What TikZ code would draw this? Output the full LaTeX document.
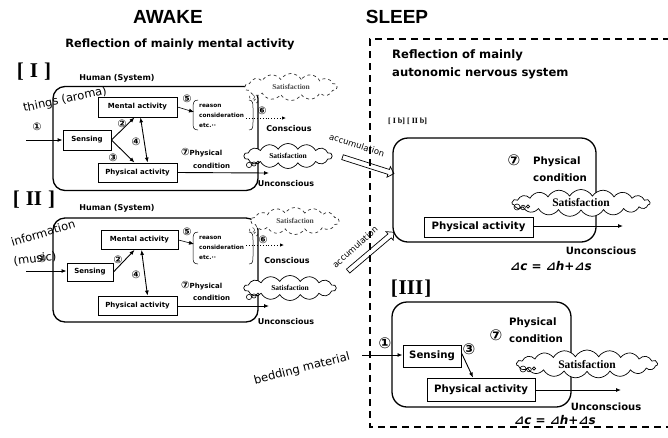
\documentclass[tikz,border=0pt]{standalone}
\usepackage{fontspec}
\setmainfont{DejaVu Sans}
\newfontfamily\serifb{Liberation Serif}
\newfontfamily\djsans{DejaVu Sans}
\newfontfamily\arialf{Liberation Sans}
\usetikzlibrary{shapes.symbols,shapes.arrows,arrows.meta,calc}
\tikzset{
 abox/.style={draw, line width=0.9pt, fill=white, inner sep=0pt, font=\fontsize{7}{9}\selectfont\bfseries},
 sbox/.style={draw, line width=1pt, fill=white, inner sep=0pt, font=\fontsize{10.2}{12}\selectfont\bfseries},
 bigbox/.style={draw, line width=1.3pt, rounded corners=12pt, inner sep=0pt},
 arr/.style={line width=0.9pt, -{Latex[length=5pt,width=4pt]}},
 darr/.style={line width=0.9pt, {Latex[length=5pt,width=4pt]}-{Latex[length=5pt,width=4pt]}},
 lbl/.style={font=\fontsize{7}{9}\selectfont\bfseries, inner sep=0pt},
 mlbl/.style={font=\fontsize{8}{9}\selectfont\bfseries, inner sep=0pt},
 slbl/.style={font=\fontsize{10.2}{17}\selectfont\bfseries, inner sep=0pt},
 tiny/.style={font=\fontsize{5.8}{10}\selectfont\bfseries, inner sep=0pt, align=left},
 num/.style={font=\fontsize{10.5}{10}\selectfont\bfseries, inner sep=0pt},
 bignum/.style={font=\fontsize{15}{15}\selectfont\bfseries, inner sep=0pt},
 sat/.style={cloud, cloud ignores aspect, draw, line width=0.7pt, cloud puffs=14, cloud puff arc=120, inner sep=0pt, fill=white, font=\serifb\fontsize{7.5}{8}\selectfont\bfseries},
 bsat/.style={sat, cloud puffs=19, font=\serifb\fontsize{11.5}{12}\selectfont\bfseries},
 hollow/.style={single arrow, draw, line width=0.7pt, inner sep=2.2pt, single arrow head extend=3pt, single arrow head indent=0pt, fill=white},
 roman/.style={font=\serifb\fontsize{21}{21}\selectfont\bfseries, inner sep=0pt},
 hand/.style={font=\fontsize{11.5}{12}\selectfont, inner sep=0pt},
 eq/.style={font=\fontsize{12}{12}\selectfont\bfseries\itshape, inner sep=0pt},
 bubble/.style={draw, line width=0.6pt},
}
\begin{document}
\begin{tikzpicture}[x=1pt,y=-1pt]
\useasboundingbox (0,0) rectangle (668,437);

% ---------- titles ----------
\node[font=\arialf\fontsize{19}{19}\selectfont\bfseries, inner sep=0pt] (tawake) at (168,17) {AWAKE};
\node[font=\fontsize{11.4}{12}\selectfont\bfseries, inner sep=0pt] (tawake2) at (180,44) {Reflection of mainly mental activity};
\node[font=\arialf\fontsize{19}{19}\selectfont\bfseries, inner sep=0pt] (tsleep) at (397,17) {SLEEP};

% ================= [I] =================
\node[roman] (r1lab) at (34,72) {[\hspace{6pt}I\hspace{6pt}]};
\node[mlbl] (hs1) at (117,78) {Human (System)};
\node[bigbox, minimum width=205, minimum height=104] (h1) at (155.5,138.5) {};
\node[abox, minimum width=79, minimum height=20] (m1) at (137.5,107) {Mental activity};
\node[abox, minimum width=48, minimum height=20] (s1) at (87,140) {Sensing};
\node[abox, minimum width=79, minimum height=19] (p1) at (137.5,172.5) {Physical activity};
\coordinate (in1) at (26,140);
\draw[arr] (in1) -- (s1.west);
\node[num] (n11) at (37,127) {①};
\node[hand, rotate=12] (thing) at (65,100) {things (aroma)};
\draw[arr] (s1.east) -- ([xshift=-3pt]m1.south);
\draw[arr] (s1.east) -- ([xshift=-3pt]p1.north);
\node[num] (n12) at (122,124) {②};
\node[num] (n13) at (113,158) {③};
\node[num] (n14) at (136,142) {④};
\draw[darr] ([xshift=3pt]m1.south) -- ([xshift=10pt]p1.north);
\node[num] (n15) at (187,99) {⑤};
\node[tiny, anchor=west] (rs1) at (199,116) {reason\\consideration\\etc.··};
\draw[arr, line width=0.6pt] (m1.east) -- ([xshift=-5pt]rs1.west |- 0,112);
\draw[line width=0.5pt] (198,100) .. controls (193,100) and (193,104) .. (193,108) -- (193,122) .. controls (193,127) and (193,130) .. (198,130);
\draw[line width=0.5pt] (249,100) .. controls (253,100) and (253,104) .. (253,108) -- (253,122) .. controls (253,127) and (253,130) .. (249,130);
\node[num] (n16) at (262,111) {⑥};
\coordinate (d1a) at (246,118); \coordinate (d1b) at (286,118);
\draw[arr, line width=0.8pt, dotted, -{Latex[length=4pt,width=3.5pt]}] (d1a) -- (d1b);
\node[mlbl] (con1) at (289,129) {Conscious};
\node[sat, dashed, draw=black!80, text=black!70, minimum width=92, minimum height=27] (cd1) at (291,87) {Satisfaction};
\draw[bubble, dashed, line width=0.4pt] (252,97) circle (2.5) (256,101) circle (2);
\node[sat, minimum width=88, minimum height=25] (cs1) at (288,156) {Satisfaction};
\draw[bubble] (249,165) circle (2.6) (254,164) circle (2.1) (258,162.5) circle (1.5);
\node[lbl, anchor=west] (pc1) at (181,153) {{\fontsize{10}{10}\selectfont ⑦}Physical};
\node[lbl, anchor=west] (pc1b) at (193,166) {condition};
\coordinate (u1) at (269,173);
\draw[arr] (p1.east) -- (u1);
\node[mlbl] (un1) at (286,184) {Unconscious};

% accumulation I
\node[hollow, minimum height=54, rotate=-17.7] (acc1) at (367,165) {};
\node[font=\fontsize{8.5}{9}\selectfont, rotate=-18, inner sep=0pt] (acct1) at (357,145) {accumulation};

% ================= [II] =================
\node[roman] (r2lab) at (34,200) {[\hspace{6pt}II\hspace{6pt}]};
\node[mlbl] (hs2) at (117,208) {Human (System)};
\node[bigbox, minimum width=205, minimum height=104] (h2) at (155.5,270) {};
\node[abox, minimum width=77, minimum height=19] (m2) at (139.5,240) {Mental activity};
\node[abox, minimum width=46, minimum height=18] (s2) at (90,272) {Sensing};
\node[abox, minimum width=79, minimum height=19] (p2) at (137.5,305.5) {Physical activity};
\coordinate (in2) at (26,271);
\draw[arr] (in2) -- (s2.west |- in2);
\node[hand, rotate=17] (info) at (43,233) {information};
\node[hand, rotate=8] (music) at (35,259) {(music)};
\node[num] (n21) at (42,259) {①};
\draw[arr] (s2.east) -- ([xshift=-5pt]m2.south);
\node[num] (n22) at (118,260) {②};
\node[num] (n24) at (136,275) {④};
\draw[darr] ([xshift=2pt]m2.south) -- ([xshift=10pt]p2.north);
\node[num] (n25) at (187,232) {⑤};
\node[tiny, anchor=west] (rs2) at (199,248) {reason\\consideration\\etc.··};
\draw[arr, line width=0.6pt] (m2.east) -- ([xshift=-5pt]rs2.west |- 0,244);
\draw[line width=0.5pt] (198,232) .. controls (193,232) and (193,236) .. (193,240) -- (193,256) .. controls (193,261) and (193,264) .. (198,264);
\draw[line width=0.5pt] (249,232) .. controls (253,232) and (253,236) .. (253,240) -- (253,256) .. controls (253,261) and (253,264) .. (249,264);
\node[num] (n26) at (263,240) {⑥};
\coordinate (d2a) at (246,245); \coordinate (d2b) at (284,245);
\draw[arr, line width=0.8pt, dotted, -{Latex[length=4pt,width=3.5pt]}] (d2a) -- (d2b);
\node[mlbl] (con2) at (287,261) {Conscious};
\node[sat, dashed, draw=black!80, text=black!70, minimum width=88, minimum height=27] (cd2) at (295,221) {Satisfaction};
\draw[bubble, dashed, line width=0.4pt] (252,230) circle (2.5) (256,234) circle (2);
\node[sat, minimum width=92, minimum height=25] (cs2) at (290,288) {Satisfaction};
\draw[bubble] (249,297) circle (2.6) (254,296) circle (2.1) (258,294.5) circle (1.5);
\node[lbl, anchor=west] (pc2) at (181,286) {{\fontsize{10}{10}\selectfont ⑦}Physical};
\node[lbl, anchor=west] (pc2b) at (193,298) {condition};
\coordinate (u2) at (269,306);
\draw[arr] (p2.east |- u2) -- (u2);
\node[mlbl] (un2) at (286,322) {Unconscious};

% accumulation II
\node[hollow, minimum height=60, rotate=40.3] (acc2) at (370,252.5) {};
\node[font=\fontsize{8.5}{9}\selectfont, rotate=42, inner sep=0pt] (acct2) at (355,247) {accumulation};

% ================= SLEEP =================
\draw[dashed, dash pattern=on 7pt off 5pt, line width=1.2pt] (670,39) -- (370,39) -- (370,427) -- (670,427);
\node[font=\fontsize{11.6}{18}\selectfont\bfseries, inner sep=0pt, anchor=west, align=left] (refl) at (392,64) {Reflection of mainly\\autonomic nervous system};
\node[font=\serifb\fontsize{8}{8}\selectfont\bfseries, anchor=west, inner sep=0pt] (ib) at (388,121) {[ I b] [ II b]};

\node[bigbox, rounded corners=15pt, minimum width=203, minimum height=104] (sb1) at (494.5,190) {};
\node[bignum] (n7s) at (514,160) {⑦};
\node[slbl, anchor=west, align=left] (pcs) at (533,169.5) {Physical\\condition};
\node[bsat, minimum width=138, minimum height=27] (cs3) at (581,203) {Satisfaction};
\draw[bubble] (517,207) circle (3) (523,207.5) circle (2.3) (528,206.5) circle (1.6);
\node[sbox, minimum width=109, minimum height=20] (ps1) at (478.5,227) {Physical activity};
\coordinate (u3) at (623,226);
\draw[arr] (ps1.east |- u3) -- (u3);
\node[font=\fontsize{10}{10}\selectfont\bfseries, inner sep=0pt] (un3) at (601,251) {Unconscious};
\node[eq, anchor=west] (eq1) at (510,266) {⊿c = ⊿h+⊿s};

% [III]
\node[roman] (r3lab) at (411,289) {[\hspace{1pt}III\hspace{1pt}]};
\node[bigbox, rounded corners=15pt, minimum width=179, minimum height=105] (sb2) at (481.5,354.5) {};
\node[bignum] (n37) at (496,335) {⑦};
\node[slbl, anchor=west, align=left] (pcs2) at (509,330) {Physical\\condition};
\node[bsat, minimum width=141, minimum height=28] (cs4) at (587,364) {Satisfaction};
\draw[bubble] (523,369) circle (3) (529,369.5) circle (2.3) (534,368.5) circle (1.6);
\node[sbox, minimum width=58, minimum height=22] (s3) at (432,356) {Sensing};
\node[sbox, minimum width=108, minimum height=23] (p3) at (481,389.5) {Physical activity};
\node[bignum] (n33) at (469,349) {③};
\draw[arr] ([yshift=3pt]s3.east) -- ([xshift=-8pt]p3.north);
\coordinate (u4) at (621,390);
\draw[arr] (p3.east |- u4) -- (u4);
\node[font=\fontsize{10}{10}\selectfont\bfseries, inner sep=0pt] (un4) at (606,407) {Unconscious};
\node[eq, anchor=west] (eq2) at (514,420) {⊿c = ⊿h+⊿s};
\node[bignum] (n31) at (385,343) {①};
\coordinate (in3) at (362,355);
\draw[arr] (in3) -- (s3.west |- in3);
\node[hand, rotate=14.4] (bed) at (302,369) {bedding material};
\end{tikzpicture}
\end{document}
